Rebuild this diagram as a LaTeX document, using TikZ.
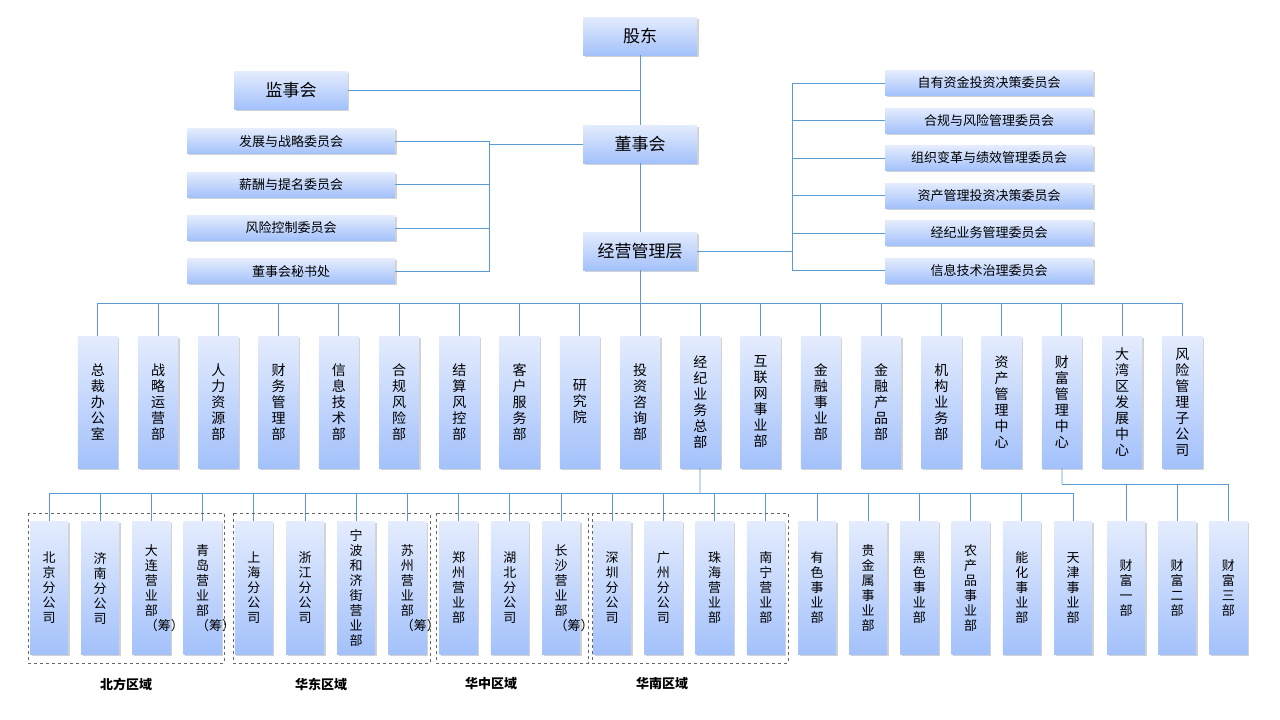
\documentclass[tikz,border=0pt]{standalone}
\usepackage{fontspec}
\setmainfont{Noto Sans CJK SC}
\XeTeXlinebreaklocale "zh"
\XeTeXlinebreakskip=0pt plus 1pt
\usetikzlibrary{shadows}
\definecolor{boxtop}{HTML}{E4ECFD}
\definecolor{boxbot}{HTML}{A3C1FB}
\definecolor{link}{HTML}{5B9BD5}
\begin{document}
\begin{tikzpicture} [x=1pt, y=-1pt,
		every node/.style={inner sep=0pt},
		box/.style={draw=none, top color=boxtop, bottom color=boxbot,
			drop shadow={shadow xshift=1.5pt, shadow yshift=-1.5pt, fill=black!35}},
		big/.style={box, minimum width=114pt, minimum height=38pt, font=\fontsize{17}{17}\selectfont},
		comm/.style={box, minimum width=208pt, minimum height=25pt, font=\fontsize{13}{13}\selectfont},
		dept/.style={box, minimum width=40pt, minimum height=132pt, text width=15pt, align=center,
			font=\fontsize{14}{16}\selectfont},
		unit/.style={box, minimum width=38pt, minimum height=133pt, text width=13pt, align=center,
			font=\fontsize{13}{15}\selectfont},
		link/.style={draw=link, line width=0.8pt},
		region/.style={draw=black!60, dashed, line width=0.5pt},
		area/.style={font=\fontsize{13}{13}\selectfont\bfseries}
	]
	\useasboundingbox (0,0) rectangle (1280,720);

	% top levels
	\node (gd) [big] at (640,36) {股东};
	\node (dsh) [big] at (640,144) {董事会};
	\node (jy) [big] at (640,251) {经营管理层};
	\node (jsh) [big, minimum width=113pt] at (291,90) {监事会};
	\draw [link] (gd) -- (dsh) -- (jy);
	\draw [link] (jsh) -- (640,90);

	% board committees
	\foreach \t [count=\i] in {发展与战略委员会,薪酬与提名委员会,风险控制委员会,董事会秘书处} {
		\node (lc\i) [comm] at (291,98+43.3*\i) {\t};
	}
	\coordinate (lbus) at (489,144);
	\draw [link] (dsh) -- (lbus);
	\draw [link] (lc1) -| (lbus) (lc2) -| (lbus) (lc3) -| (lbus) (lc4.east) -| (lbus);

	% management committees
	\foreach \t [count=\i] in {自有资金投资决策委员会,合规与风险管理委员会,组织变革与绩效管理委员会,
			资产管理投资决策委员会,经纪业务管理委员会,信息技术治理委员会} {
		\node (rc\i) [comm] at (989,45.5+37.5*\i) {\t};
	}
	\coordinate (rbus) at (792,251);
	\draw [link] (jy) -- (rbus);
	\foreach \i in {1,...,6} \draw [link] (rc\i) -| (rbus);

	% departments
	\coordinate (dbus) at (640,303);
	\draw [link] (jy) -- (dbus);
	\foreach \t [count=\i] in {总裁办公室,战略运营部,人力资源部,财务管理部,信息技术部,合规风险部,
			结算风控部,客户服务部,研究院,投资咨询部,经纪业务总部,互联网事业部,金融事业部,
			金融产品部,机构业务部,资产管理中心,财富管理中心,大湾区发展中心,风险管理子公司} {
		\node (d\i) [dept] at (37.6+60.25*\i,402) {\t};
		\draw [link] (d\i.north) -- (d\i.north |- dbus) -- (dbus);
	}

	% business units
	\coordinate (ubus) at (700,493);
	\draw [link] (d11) -- (ubus);
	\foreach \t [count=\i] in {北京分公司,济南分公司,大连营业部（筹）,青岛营业部（筹）,
			上海分公司,浙江分公司,宁波和济街营业部,苏州营业部（筹）,郑州营业部,湖北分公司,
			长沙营业部（筹）,深圳分公司,广州分公司,珠海营业部,南宁营业部,有色事业部,
			贵金属事业部,黑色事业部,农产品事业部,能化事业部,天津事业部} {
		\node (u\i) [unit] at (-2.2+51.2*\i,588) {\t};
		\draw [link] (u\i.north) -- (u\i.north |- ubus) -- (ubus);
	}

	% wealth units
	\coordinate (wbus) at (1062,484);
	\draw [link] (d17) -- (wbus);
	\foreach \t [count=\i] in {财富一部,财富二部,财富三部} {
		\node (w\i) [unit] at (1126+51.2*\i-51.2,588) {\t};
		\draw [link] (w\i.north) -- (w\i.north |- wbus) -- (wbus);
	}

	% regions
	\draw [region] (28,513) rectangle (224,663);
	\draw [region] (233,513) rectangle (430,663);
	\draw [region] (436,513) rectangle (588,663);
	\draw [region] (592,513) rectangle (788,663);
	\node (ra1) [area] at (126,684) {北方区域};
	\node (ra2) [area] at (321,684) {华东区域};
	\node (ra3) [area] at (491,684) {华中区域};
	\node (ra4) [area] at (662,684) {华南区域};
\end{tikzpicture}
\end{document}
